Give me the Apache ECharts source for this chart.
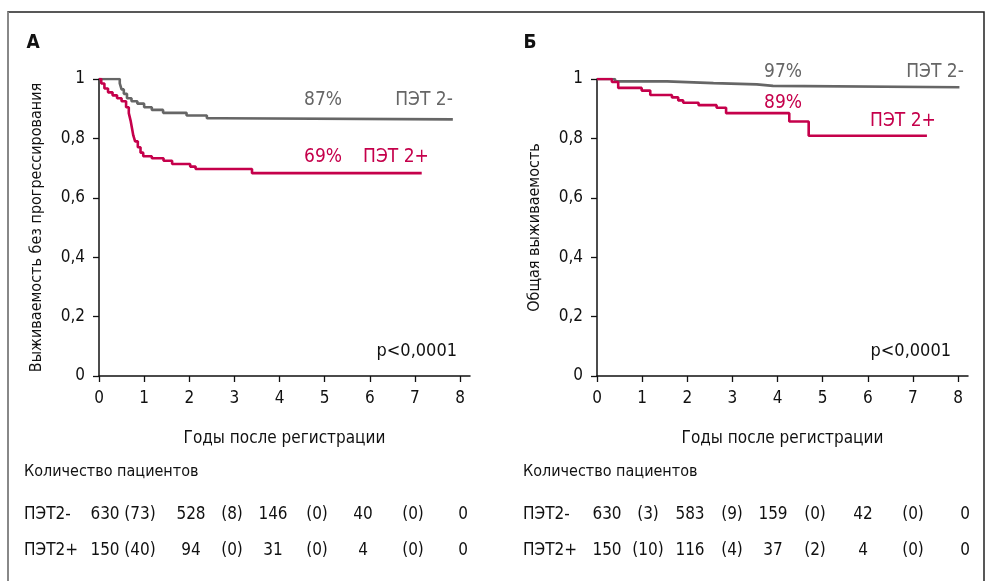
<!DOCTYPE html>
<html><head><meta charset="utf-8">
<script src="https://cdn.jsdelivr.net/npm/echarts@6/dist/echarts.min.js"></script>
<style>html,body{margin:0;padding:0;background:#fff}#c{width:992px;height:581px}</style>
</head><body><div id="c"></div>
<script>
// ---- data ----
const xTicks = [0,1,2,3,4,5,6,7,8];
const yTicks = [0,0.2,0.4,0.6,0.8,1];
// Panel A: progression-free survival [years, survival]
const pfsNeg = [[0,1],[0.46,0.985],[0.5,0.965],[0.55,0.95],[0.62,0.935],[0.72,0.925],[0.85,0.917],[1.0,0.905],[1.17,0.896],[1.42,0.886],[1.94,0.877],[2.39,0.868],[2.68,0.864],[7.84,0.864]];
const pfsPos = [[0,1],[0.05,0.985],[0.12,0.968],[0.2,0.955],[0.3,0.945],[0.4,0.935],[0.5,0.925],[0.6,0.905],[0.66,0.885],[0.7,0.86],[0.73,0.835],[0.76,0.81],[0.8,0.79],[0.86,0.77],[0.92,0.752],[0.98,0.74],[1.17,0.733],[1.43,0.725],[1.62,0.714],[2.02,0.705],[2.14,0.697],[3.39,0.683],[7.15,0.683]];
// Panel B: overall survival
const osNeg = [[0,1],[0.4,0.992],[1.55,0.986],[2.58,0.982],[3.54,0.977],[3.9,0.972],[8.03,0.972]];
const osPos = [[0,1],[0.33,0.99],[0.47,0.97],[0.99,0.961],[1.18,0.946],[1.66,0.938],[1.8,0.928],[1.91,0.92],[2.25,0.912],[2.65,0.903],[2.86,0.885],[4.26,0.857],[4.69,0.809],[7.31,0.809]];
// number at risk tables
const riskTitle = 'Количество пациентов';
const riskLabels = ['ПЭТ2-','ПЭТ2+'];
const riskA_neg = ['630','(73)','528','(8)','146','(0)','40','(0)','0'];
const riskA_pos = ['150','(40)','94','(0)','31','(0)','4','(0)','0'];
const riskB_neg = ['630','(3)','583','(9)','159','(0)','42','(0)','0'];
const riskB_pos = ['150','(10)','116','(4)','37','(2)','4','(0)','0'];
const pctA = ['87%','69%'];
const pctB = ['97%','89%'];
const seriesNames = ['ПЭТ 2-','ПЭТ 2+'];

const FONT = "'Liberation Sans Narrow','DejaVu Sans Condensed','Noto Sans',sans-serif";
const GRAY = '#666666', RED = '#c5004b';

function xAxis(i){
  return {gridIndex:i,type:'value',min:0,max:8.22,
    axisLine:{lineStyle:{color:'#111',width:1.5}},
    axisTick:{length:6,lineStyle:{color:'#111',width:1.3},customValues:xTicks},
    axisLabel:{customValues:xTicks,color:'#111',fontSize:17,fontFamily:FONT,margin:14},
    splitLine:{show:false},
    name:'Годы после регистрации',nameLocation:'middle',nameGap:54,
    nameTextStyle:{color:'#111',fontSize:17,fontFamily:FONT}};
}
function yAxis(i,name,gap){
  return {gridIndex:i,type:'value',min:0,max:1,interval:0.2,
    axisLine:{show:true,lineStyle:{color:'#111',width:1.5}},
    axisTick:{show:true,length:6,lineStyle:{color:'#111',width:1.3}},
    axisLabel:{color:'#111',fontSize:17,fontFamily:FONT,margin:14,
      formatter:v=>String(+v.toFixed(1)).replace('.',',')},
    splitLine:{show:false},
    name:name,nameLocation:'middle',nameGap:gap,nameRotate:90,
    nameTextStyle:{color:'#111',fontSize:16,fontFamily:FONT}};
}
function line(i,data,color){
  return {type:'line',xAxisIndex:i,yAxisIndex:i,data:data,step:'end',showSymbol:false,
    lineStyle:{color:color,width:2.6},itemStyle:{color:color},animation:false};
}
const chart = echarts.init(document.getElementById('c'),null,{renderer:'canvas'});
const gridA = {left:99,top:79,width:371,height:297};
const gridB = {left:597,top:79,width:371,height:297};
function txt(x,y,t,opt){
  return Object.assign({type:'text',x:x,y:y,style:Object.assign({text:t,fill:'#111',font:'16px '+FONT,textAlign:'center',textVerticalAlign:'middle'},opt||{})});
}
const colA = [105,140,191,232,273,317,363,413,463];
const colB = [607,648,690,732,773,815,863,913,965];
const g = [];
// frame
g.push({type:'polyline',shape:{points:[[8,581],[8,12],[984,12],[984,581]]},style:{stroke:'#222',lineWidth:1.5,fill:null}});
g.push({type:'line',shape:{x1:8,y1:12,x2:8,y2:581},style:{stroke:'#888',lineWidth:2}});
g.push(txt(33,43,'А',{font:'bold 19px '+FONT}));
g.push(txt(530,43,'Б',{font:'bold 19px '+FONT}));
// curve annotations
g.push(txt(323,100,pctA[0],{fill:GRAY,font:'19px '+FONT}));
g.push(txt(424,100,seriesNames[0],{fill:GRAY,font:'19px '+FONT}));
g.push(txt(323,157,pctA[1],{fill:RED,font:'19px '+FONT}));
g.push(txt(396,157,seriesNames[1],{fill:RED,font:'19px '+FONT}));
g.push(txt(783,72,pctB[0],{fill:GRAY,font:'19px '+FONT}));
g.push(txt(935,72,seriesNames[0],{fill:GRAY,font:'19px '+FONT}));
g.push(txt(783,103,pctB[1],{fill:RED,font:'19px '+FONT}));
g.push(txt(903,121,seriesNames[1],{fill:RED,font:'19px '+FONT}));
g.push(txt(457,351,'p<0,0001',{textAlign:'right',font:'18px '+FONT}));
g.push(txt(951,351,'p<0,0001',{textAlign:'right',font:'18px '+FONT}));
// risk tables
[[24,colA,riskA_neg,riskA_pos],[523,colB,riskB_neg,riskB_pos]].forEach(([x0,cols,rn,rp])=>{
  g.push(txt(x0,472,riskTitle,{textAlign:'left'}));
  g.push(txt(x0,515,riskLabels[0],{textAlign:'left',font:'17px '+FONT}));
  g.push(txt(x0,551,riskLabels[1],{textAlign:'left',font:'17px '+FONT}));
  rn.forEach((v,k)=>g.push(txt(cols[k],515,v,{font:'17px '+FONT})));
  rp.forEach((v,k)=>g.push(txt(cols[k],551,v,{font:'17px '+FONT})));
});
chart.setOption({
  animation:false,
  grid:[gridA,gridB],
  xAxis:[xAxis(0),xAxis(1)],
  yAxis:[yAxis(0,'Выживаемость без прогрессирования',54),yAxis(1,'Общая выживаемость',54)],
  series:[line(0,pfsNeg,GRAY),line(0,pfsPos,RED),line(1,osNeg,GRAY),line(1,osPos,RED)],
  graphic:g
});
</script></body></html>
